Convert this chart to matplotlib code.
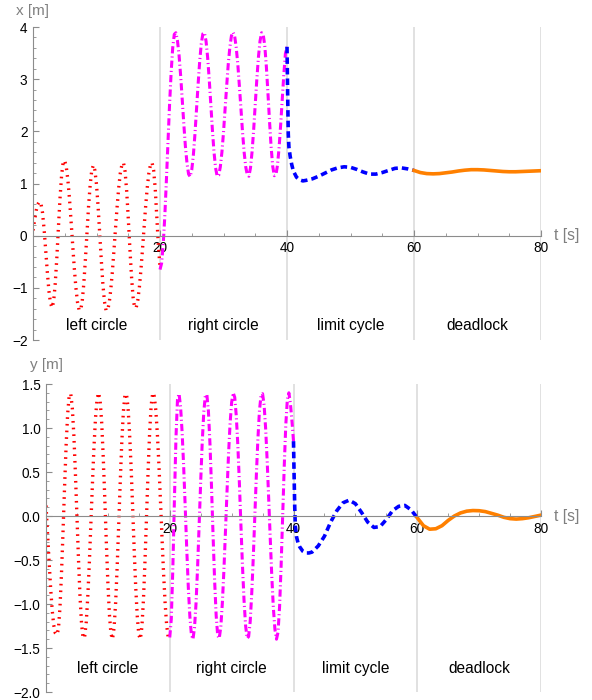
import numpy as np
import matplotlib
matplotlib.use("Agg")
import matplotlib.pyplot as plt
from matplotlib.ticker import MultipleLocator, FixedLocator, FuncFormatter

plt.rcParams['font.family'] = ['Liberation Sans', 'DejaVu Sans']
plt.rcParams['lines.scale_dashes'] = False

# ========== Data ==========
# sample times
t_left = np.arange(0, 20.01, 0.25)
t_right = np.arange(20, 40.01, 0.25)
t_limit = [40, 40.1, 40.2, 40.3, 40.5, 40.75, 41, 41.5, 42, 42.5, 43,
           44, 45, 46, 47, 48, 49, 50, 51, 52, 53, 54, 55, 56, 57, 58, 59, 60]
t_dead = np.arange(60, 80.01, 1.0)

# x position [m]
x_left = [0.10, 0.30, 0.48, 0.60, 0.65, 0.62, 0.44, 0.12,
          -0.28, -0.69, -1.05, -1.29, -1.38, -1.26, -0.92, -0.43,
          0.15, 0.71, 1.15, 1.41, 1.44, 1.31, 1.06, 0.70,
          0.27, -0.18, -0.62, -0.99, -1.27, -1.42, -1.43, -1.26,
          -0.92, -0.46, 0.05, 0.56, 0.97, 1.25, 1.35, 1.25,
          0.98, 0.56, 0.05, -0.46, -0.92, -1.26, -1.43, -1.43,
          -1.29, -1.03, -0.69, -0.28, 0.15, 0.56, 0.92, 1.20,
          1.36, 1.40, 1.23, 0.86, 0.34, -0.23, -0.76, -1.17,
          -1.38, -1.38, -1.24, -0.99, -0.65, -0.25, 0.17, 0.58,
          0.93, 1.20, 1.36, 1.40, 1.25, 0.90, 0.35, -0.20,
          -0.60]
x_right = [-0.65, -0.53, -0.18, 0.36, 1.04, 1.77, 2.50, 3.12,
           3.60, 3.86, 3.89, 3.74, 3.46, 3.07, 2.61, 2.14,
           1.71, 1.39, 1.18, 1.13, 1.26, 1.54, 1.94, 2.42,
           2.90, 3.34, 3.68, 3.87, 3.89, 3.73, 3.42, 3.00,
           2.52, 2.03, 1.61, 1.30, 1.14, 1.16, 1.32, 1.60,
           1.98, 2.43, 2.87, 3.29, 3.61, 3.83, 3.90, 3.83,
           3.61, 3.29, 2.87, 2.43, 1.98, 1.60, 1.32, 1.16,
           1.14, 1.30, 1.61, 2.03, 2.52, 3.00, 3.42, 3.73,
           3.89, 3.86, 3.64, 3.24, 2.73, 2.19, 1.70, 1.33,
           1.15, 1.16, 1.35, 1.68, 2.12, 2.61, 3.09, 3.49,
           3.62]
x_limit = [3.62, 2.75, 1.95, 1.70, 1.52, 1.36, 1.24, 1.12, 1.07, 1.05, 1.06,
           1.09, 1.14, 1.20, 1.26, 1.30, 1.32, 1.31, 1.27, 1.22, 1.18, 1.18,
           1.21, 1.25, 1.29, 1.30, 1.28, 1.25]
x_dead = [1.25, 1.21, 1.19, 1.185, 1.19, 1.205, 1.22, 1.24, 1.255, 1.265, 1.265,
          1.26, 1.25, 1.24, 1.23, 1.225, 1.225, 1.23, 1.235, 1.24, 1.245]

# y position [m]
y_left = [0.12, -0.20, -0.52, -0.82, -1.07, -1.24, -1.33, -1.35,
          -1.29, -1.05, -0.66, -0.18, 0.33, 0.80, 1.16, 1.37,
          1.39, 1.23, 0.92, 0.49, 0.00, -0.49, -0.92, -1.23,
          -1.39, -1.37, -1.21, -0.92, -0.54, -0.09, 0.36, 0.78,
          1.11, 1.33, 1.40, 1.31, 1.06, 0.67, 0.20, -0.30,
          -0.76, -1.12, -1.34, -1.40, -1.27, -0.99, -0.58, -0.10,
          0.39, 0.84, 1.18, 1.37, 1.39, 1.24, 0.95, 0.56,
          0.10, -0.38, -0.81, -1.14, -1.35, -1.40, -1.26, -0.95,
          -0.51, 0.00, 0.51, 0.95, 1.26, 1.40, 1.36, 1.20,
          0.93, 0.58, 0.17, -0.25, -0.65, -0.99, -1.24, -1.38,
          -1.39]
y_right = [-1.38, -1.17, -0.59, 0.17, 0.88, 1.32, 1.39, 1.24,
           0.95, 0.56, 0.10, -0.38, -0.81, -1.14, -1.35, -1.40,
           -1.27, -0.99, -0.58, -0.10, 0.39, 0.84, 1.18, 1.37,
           1.38, 1.19, 0.82, 0.33, -0.22, -0.73, -1.13, -1.36,
           -1.39, -1.26, -0.99, -0.62, -0.18, 0.27, 0.70, 1.05,
           1.29, 1.40, 1.35, 1.14, 0.81, 0.38, -0.10, -0.56,
           -0.95, -1.24, -1.39, -1.37, -1.20, -0.88, -0.47, 0.00,
           0.47, 0.88, 1.20, 1.37, 1.39, 1.26, 0.99, 0.62,
           0.18, -0.27, -0.70, -1.05, -1.29, -1.40, -1.32, -1.03,
           -0.56, 0.00, 0.56, 1.03, 1.32, 1.40, 1.28, 1.08,
           0.85]
y_limit = [0.85, 0.45, 0.10, -0.12, -0.24, -0.31, -0.35, -0.40, -0.42, -0.42, -0.41,
           -0.34, -0.23, -0.07, 0.06, 0.15, 0.18, 0.14, 0.04, -0.07, -0.13, -0.12,
           -0.04, 0.06, 0.11, 0.12, 0.07, -0.02]
y_dead = [-0.02, -0.11, -0.15, -0.145, -0.11, -0.05, 0.0, 0.035, 0.055, 0.062, 0.06,
          0.05, 0.03, 0.01, -0.015, -0.03, -0.035, -0.03, -0.02, -0.005, 0.01]

phase_names = ["left circle", "right circle", "limit cycle", "deadlock"]
phase_centers = [10, 30, 50, 70]
phase_edges = [20, 40, 60, 80]

# ========== Styles ==========
axis_grey = '#8c8c8c'
label_grey = '#808080'
grid_grey = '#d9d9d9'

styles = [
    dict(color='#ff0000', lw=2.4, ls=(0, (1.2, 3.6))),                 # left circle
    dict(color='#ff00ff', lw=2.2, ls=(0, (5.2, 2.2, 0.8, 2.2))),       # right circle
    dict(color='#0000ff', lw=2.6, ls=(0, (4.7, 2.9))),                 # limit cycle
    dict(color='#ff8000', lw=2.6, ls='-'),                             # deadlock
]


def fmt_int(v, pos):
    v = round(v)
    return f"{v:d}".replace('-', '\u2212')


def fmt_one(v, pos):
    v = round(v, 1) + 0.0
    return f"{v:.1f}".replace('-', '\u2212')


def style_axes(ax, ylim, major, minor, yfmt, ylabel, ylabel_off):
    ax.set_xlim(0, 80)
    ax.set_ylim(*ylim)
    for s in ['top', 'right']:
        ax.spines[s].set_visible(False)
    ax.spines['bottom'].set_position(('data', 0))
    for s in ['left', 'bottom']:
        ax.spines[s].set_color(axis_grey)
        ax.spines[s].set_linewidth(0.8)
    ax.xaxis.set_major_locator(FixedLocator(phase_edges))
    ax.xaxis.set_minor_locator(MultipleLocator(5))
    ax.xaxis.set_major_formatter(FuncFormatter(fmt_int))
    ax.yaxis.set_major_locator(MultipleLocator(major))
    ax.yaxis.set_minor_locator(MultipleLocator(minor))
    ax.yaxis.set_major_formatter(FuncFormatter(yfmt))
    ax.tick_params(which='both', direction='in', color=axis_grey, labelcolor='black')
    ax.tick_params(which='major', length=4.5, width=0.8, labelsize=9.8, pad=4)
    ax.tick_params(which='minor', length=2.5, width=0.6)
    for t in phase_edges:
        ax.axvline(t, color=grid_grey, lw=1.1, zorder=0)
    for name, tc in zip(phase_names, phase_centers):
        ax.text(tc, -1.73, name, ha='center', va='center', fontsize=11.2)
    ax.annotate(ylabel, xy=(0, 1), xycoords='axes fraction', xytext=(0, ylabel_off),
                textcoords='offset points', ha='center', va='center',
                fontsize=11, color=label_grey, annotation_clip=False)
    ax.annotate('t [s]', xy=(80, 0), xycoords='data', xytext=(9.5, 0),
                textcoords='offset points', ha='left', va='center',
                fontsize=11.3, color=label_grey, annotation_clip=False)


# ========== Figure ==========
fig = plt.figure(figsize=(5.92, 7.0), dpi=100)
ax_x = fig.add_axes([33 / 592, 1 - 340 / 700, 508 / 592, 313 / 700])
ax_y = fig.add_axes([46 / 592, 1 - 692 / 700, 495 / 592, 308 / 700])

times = [t_left, t_right, t_limit, t_dead]
for tt, vals, st in zip(times, [x_left, x_right, x_limit, x_dead], styles):
    ax_x.plot(tt, vals, **st)
for tt, vals, st in zip(times, [y_left, y_right, y_limit, y_dead], styles):
    ax_y.plot(tt, vals, **st)

style_axes(ax_x, (-2, 4), 1, 0.2, fmt_int, 'x [m]', 11.5)
style_axes(ax_y, (-2, 1.5), 0.5, 0.1, fmt_one, 'y [m]', 13.5)

fig.savefig("out.png", dpi=100)
